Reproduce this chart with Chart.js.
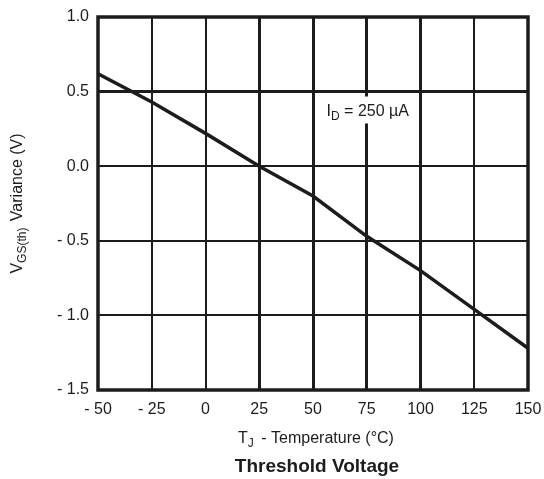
<!DOCTYPE html>
<html>
<head>
<meta charset="utf-8">
<script src="https://cdn.jsdelivr.net/npm/chart.js@4/dist/chart.umd.min.js"></script>
<style>
  html, body { margin: 0; padding: 0; background: #ffffff; }
  #wrap { width: 544px; height: 479px; }
</style>
</head>
<body>
<div id="wrap"><canvas id="chart" width="544" height="479"></canvas></div>
<script>
// Junction temperature (°C) and gate threshold voltage variance (V)
const temperatures = [-50, -25, 0, 25, 50, 75, 100, 125, 150];
const vgsVariance = [0.62, 0.43, 0.22, 0.0, -0.2, -0.47, -0.70, -0.96, -1.22];

// Axis ticks
const xTickValues = [-50, -25, 0, 25, 50, 75, 100, 125, 150];
const yTickValues = [-1.5, -1.0, -0.5, 0.0, 0.5, 1.0];

// Heavier grid lines
const xHeavyLines = [25, 50, 75, 100];
const yHeavyLines = [0.5];

// Annotation text and its anchor in data units
const annotationMain = 'I';
const annotationSub = 'D';
const annotationRest = ' = 250 \u00B5A';
const annotationAt = { x: 75, y: 0.38 };

const INK = '#1c1c1c';
const FONT = '"Liberation Sans", Arial, Helvetica, sans-serif';

function fmtSigned(v, digits) {
  const s = digits ? Math.abs(v).toFixed(digits) : String(Math.abs(v));
  return v < 0 ? '- ' + s : s;
}

// Text with a subscript drawn at (x, y) left-aligned; returns nothing
function drawSubText(ctx, parts, x, y) {
  let cx = x;
  for (const p of parts) {
    ctx.font = p.font;
    ctx.fillText(p.text, cx, y + (p.dy || 0));
    cx += ctx.measureText(p.text).width + (p.gap || 0);
  }
}
function measureSubText(ctx, parts) {
  let w = 0;
  for (const p of parts) {
    ctx.font = p.font;
    w += ctx.measureText(p.text).width + (p.gap || 0);
  }
  return w;
}

const decorPlugin = {
  id: 'decor',
  afterDatasetsDraw(chart) {
    const { ctx, chartArea: a, scales } = chart;
    ctx.save();

    // plot frame
    ctx.strokeStyle = INK;
    ctx.lineWidth = 3.5;
    ctx.strokeRect(a.left, a.top, a.right - a.left, a.bottom - a.top);

    ctx.fillStyle = INK;
    ctx.textBaseline = 'alphabetic';

    // annotation with white backing
    const annParts = [
      { text: annotationMain, font: '16px ' + FONT },
      { text: annotationSub, font: '12px ' + FONT, dy: 4 },
      { text: annotationRest, font: '16px ' + FONT }
    ];
    const ax = scales.x.getPixelForValue(annotationAt.x);
    const ay = scales.y.getPixelForValue(annotationAt.y);
    const aw = measureSubText(ctx, annParts);
    ctx.fillStyle = '#ffffff';
    ctx.fillRect(ax - aw / 2 - 4, ay - 13, aw + 8, 27);
    ctx.fillStyle = INK;
    drawSubText(ctx, annParts, ax - aw / 2 + 1, ay + 6);

    // x axis title
    const xParts = [
      { text: 'T', font: '16px ' + FONT },
      { text: 'J', font: '12px ' + FONT, dy: 4, gap: 3 },
      { text: ' - Temperature (\u00B0C)', font: '16px ' + FONT }
    ];
    const cx = (a.left + a.right) / 2 + 3;
    const xw = measureSubText(ctx, xParts);
    drawSubText(ctx, xParts, cx - xw / 2, 443);

    // chart caption
    ctx.font = 'bold 19px ' + FONT;
    ctx.textAlign = 'center';
    ctx.fillText('Threshold Voltage', cx + 1, 472);
    ctx.textAlign = 'left';

    // y axis title (rotated)
    const yParts = [
      { text: 'V', font: '16px ' + FONT },
      { text: 'GS(th)', font: '12px ' + FONT, dy: 4, gap: 2 },
      { text: ' Variance (V)', font: '16px ' + FONT }
    ];
    const yw = measureSubText(ctx, yParts);
    ctx.translate(22, (a.top + a.bottom) / 2);
    ctx.rotate(-Math.PI / 2);
    drawSubText(ctx, yParts, -yw / 2, 0);

    ctx.restore();
  }
};

new Chart(document.getElementById('chart'), {
  type: 'line',
  data: {
    datasets: [{
      data: temperatures.map((t, i) => ({ x: t, y: vgsVariance[i] })),
      borderColor: INK,
      borderWidth: 3.5,
      pointRadius: 0,
      tension: 0,
      fill: false
    }]
  },
  options: {
    responsive: false,
    animation: false,
    devicePixelRatio: 1,
    layout: { padding: { top: 17, right: 16, left: 0, bottom: 0 } },
    plugins: { legend: { display: false }, tooltip: { enabled: false } },
    scales: {
      x: {
        type: 'linear',
        min: -50,
        max: 150,
        afterBuildTicks(s) { s.ticks = xTickValues.map(v => ({ value: v })); },
        afterFit(s) { s.height = 89; s.paddingLeft = 0; s.paddingRight = 0; },
        border: { display: false },
        grid: {
          color: INK,
          drawTicks: false,
          lineWidth: c => xHeavyLines.includes(c.tick && c.tick.value) ? 3 : 2
        },
        ticks: {
          padding: 10,
          maxRotation: 0,
          color: INK,
          font: { family: FONT, size: 16 },
          callback: v => fmtSigned(v, 0)
        }
      },
      y: {
        type: 'linear',
        min: -1.5,
        max: 1.0,
        afterBuildTicks(s) { s.ticks = yTickValues.map(v => ({ value: v })); },
        afterFit(s) { s.width = 98; s.paddingTop = 0; s.paddingBottom = 0; },
        border: { display: false },
        grid: {
          color: INK,
          drawTicks: false,
          lineWidth: c => yHeavyLines.includes(c.tick && c.tick.value) ? 3 : 2
        },
        ticks: {
          padding: 9,
          color: INK,
          font: { family: FONT, size: 16 },
          callback: v => fmtSigned(v, 1)
        }
      }
    }
  },
  plugins: [decorPlugin]
});
</script>
</body>
</html>
